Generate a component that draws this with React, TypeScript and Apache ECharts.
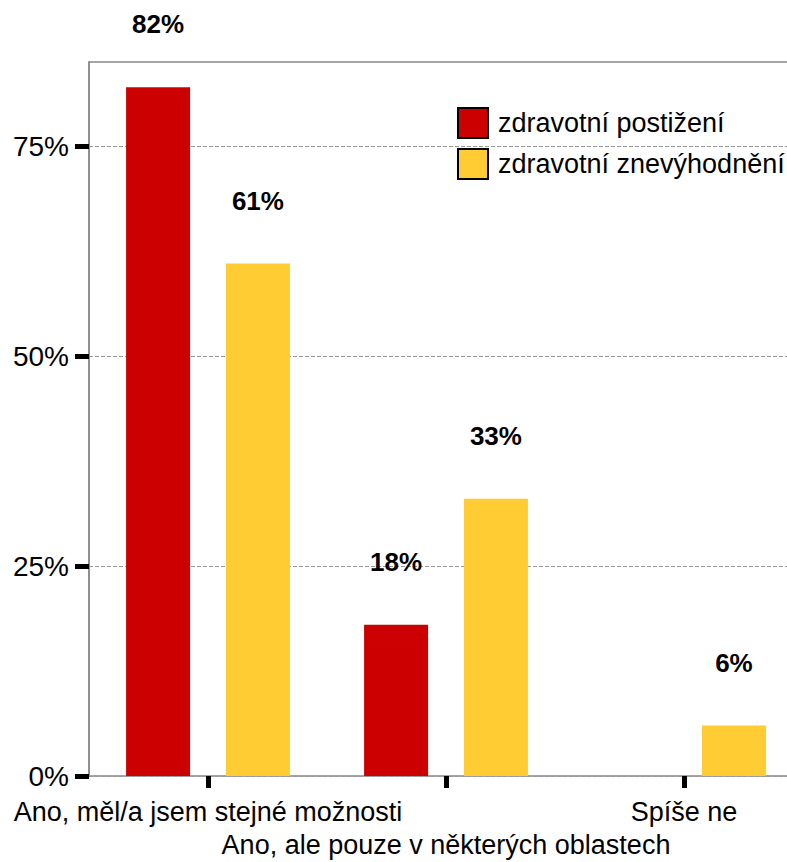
import React, { useEffect, useRef } from "react";
import * as echarts from "echarts";

const categories = [
  "Ano, měl/a jsem stejné možnosti",
  "Ano, ale pouze v některých oblastech",
  "Spíše ne",
];
const seriesNames = ["zdravotní postižení", "zdravotní znevýhodnění"];
const postizeni = [82, 18, null];
const znevyhodneni = [61, 33, 6];
const yTicks = [0, 25, 50, 75];

const FONT = "Liberation Sans, Arial, sans-serif";

export default function App() {
  const ref = useRef<HTMLDivElement>(null);
  useEffect(() => {
    if (!ref.current) return;
    const chart = echarts.init(ref.current, undefined, { renderer: "svg" });
    const label = {
      show: true,
      position: "top",
      distance: 50,
      fontSize: 26,
      fontWeight: "bold",
      color: "#000",
      fontFamily: FONT,
      formatter: (p: any) => (p.value == null ? "" : p.value + "%"),
    };
    chart.setOption({
      animation: false,
      textStyle: { fontFamily: FONT },
      grid: {
        left: 89,
        top: 62,
        right: -16,
        bottom: 86,
        outerBoundsMode: "none",
        containLabel: false,
        show: true,
        borderColor: "#888",
        borderWidth: 1.5,
        backgroundColor: "transparent",
      },
      legend: {
        orient: "vertical",
        left: 457,
        top: 107,
        padding: 0,
        itemWidth: 30,
        itemHeight: 30,
        itemGap: 9,
        icon: "rect",
        itemStyle: { borderColor: "#000", borderWidth: 2 },
        textStyle: {
          fontSize: 27,
          lineHeight: 30,
          color: "#000",
          fontFamily: FONT,
          padding: [0, 0, 0, 5],
        },
        data: seriesNames,
      },
      xAxis: {
        type: "category",
        data: categories,
        axisLine: { show: false },
        axisTick: {
          show: true,
          alignWithLabel: true,
          length: 12,
          lineStyle: { color: "#000", width: 5 },
        },
        axisLabel: {
          interval: 0,
          margin: 19,
          fontSize: 27,
          color: "#000",
          fontFamily: FONT,
          lineHeight: 33,
          hideOverlap: false,
          formatter: (v: string, i: number) => (i % 2 === 1 ? "\n" + v : v),
        },
      },
      yAxis: {
        type: "value",
        min: 0,
        max: 85,
        interval: 25,
        axisLine: { show: true, lineStyle: { color: "#888", width: 1.5 } },
        axisTick: {
          show: true,
          length: 14,
          customValues: yTicks,
          lineStyle: { color: "#000", width: 5 },
        },
        axisLabel: {
          margin: 20,
          fontSize: 28,
          color: "#000",
          fontFamily: FONT,
          customValues: yTicks,
          formatter: (v: number) => v + "%",
        },
        splitLine: {
          show: true,
          lineStyle: { color: "#999", type: "dashed", width: 1 },
        },
      },
      series: [
        {
          name: seriesNames[0],
          type: "bar",
          data: postizeni,
          barWidth: 64,
          barGap: "56%",
          itemStyle: { color: "#CC0000" },
          label,
        },
        {
          name: seriesNames[1],
          type: "bar",
          data: znevyhodneni,
          barWidth: 64,
          barGap: "56%",
          itemStyle: { color: "#FFCC33" },
          label,
        },
      ],
    });
    return () => chart.dispose();
  }, []);
  return (
    <div
      ref={ref}
      style={{ position: "fixed", left: 0, top: 0, width: 787, height: 862, background: "#fff" }}
    />
  );
}
